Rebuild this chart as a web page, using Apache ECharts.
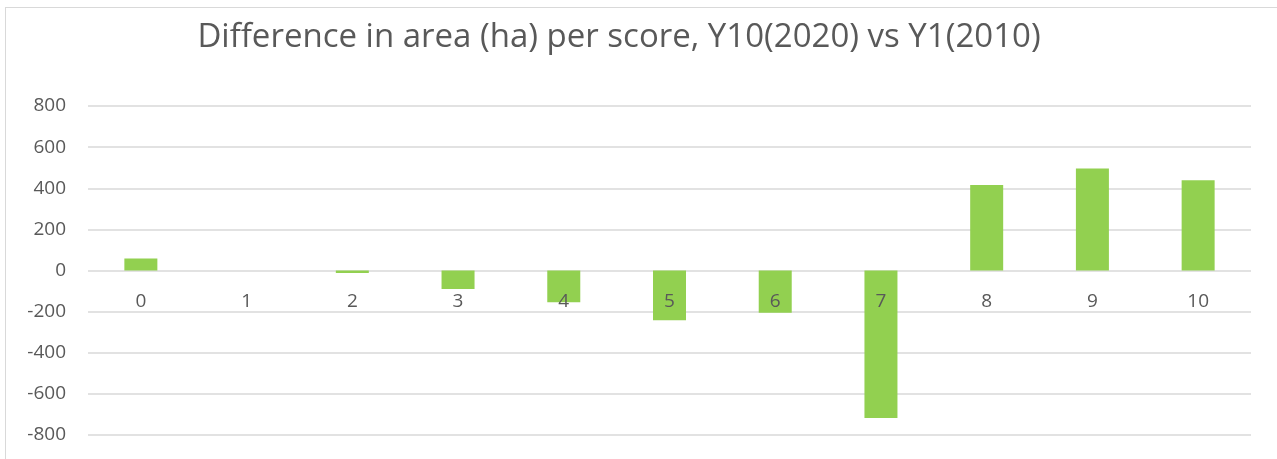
<!DOCTYPE html>
<html>
<head>
<meta charset="utf-8">
<script src="https://cdn.jsdelivr.net/npm/echarts@6/dist/echarts.min.js"></script>
<style>
    html, body { margin: 0; padding: 0; background: #fff; overflow: hidden; }
    #frame {
        position: absolute; left: 5px; top: 7px; width: 1300px; height: 470px;
        border: 1px solid #d9d9d9; border-width: 1.5px; box-sizing: border-box;
    }
    #chart { position: absolute; left: 0; top: 0; width: 1277px; height: 459px; }
</style>
</head>
<body>
<div id="frame"></div>
<div id="chart"></div>
<script>
const scores = ['0', '1', '2', '3', '4', '5', '6', '7', '8', '9', '10'];
const diffArea = [58, 0, -12, -90, -155, -242, -206, -717, 416, 496, 439];
const yTicks = { min: -800, max: 800, step: 200 };

document.addEventListener('DOMContentLoaded', function () {
    const myChart = echarts.init(document.getElementById('chart'));
    const labelColor = '#595959';
    const lineColor = '#d9d9d9';
    const gridTop = 106, gridBottom = 24;
    // put the category labels on the zero line, in the middle of the plot
    const zeroOffset = -(459 - gridTop - gridBottom) / 2;

    const option = {
        animation: false,
        title: {
            text: 'Difference in area (ha) per score, Y10(2020) vs Y1(2010)',
            left: 614,
            textAlign: 'center',
            top: 16,
            textStyle: {
                fontFamily: 'Open Sans',
                fontSize: 33,
                fontWeight: 'normal',
                color: labelColor
            }
        },
        grid: { left: 88, right: 26, top: gridTop, bottom: gridBottom, containLabel: false, outerBoundsMode: 'none' },
        xAxis: {
            type: 'category',
            data: scores,
            offset: zeroOffset,
            z: 10,
            // the zero split line of the y axis already draws the line under the bars
            axisLine: { show: false, onZero: false },
            axisTick: { show: false },
            axisLabel: { margin: 22, color: labelColor, fontSize: 19, fontFamily: 'Open Sans' }
        },
        yAxis: {
            type: 'value',
            min: yTicks.min,
            max: yTicks.max,
            interval: yTicks.step,
            axisLine: { show: false },
            axisTick: { show: false },
            axisLabel: { margin: 22, color: labelColor, fontSize: 19, fontFamily: 'Open Sans' },
            splitLine: { lineStyle: { color: lineColor, width: 1.5 } }
        },
        series: [{
            name: 'Difference',
            type: 'bar',
            data: diffArea,
            barWidth: 33,
            itemStyle: { color: '#92d050' },
            z: 2
        }]
    };

    myChart.setOption(option);
});
</script>
</body>
</html>
